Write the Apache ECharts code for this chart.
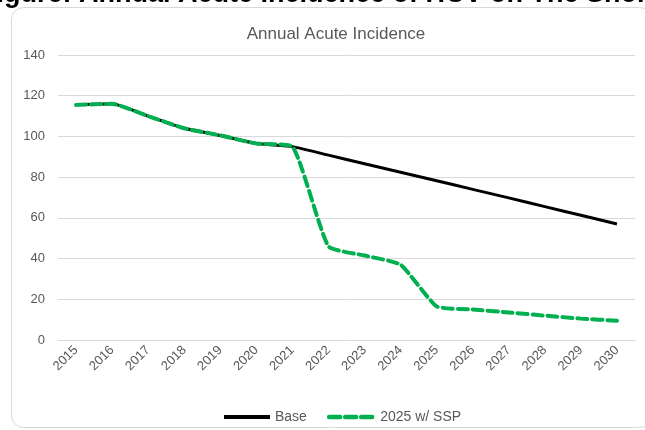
<!DOCTYPE html>
<html>
<head>
<meta charset="utf-8">
<script src="https://cdn.jsdelivr.net/npm/echarts@6/dist/echarts.min.js"></script>
<style>
  html, body { margin: 0; padding: 0; background: #fff; }
  #main { width: 645px; height: 430px; }
</style>
</head>
<body>
<div id="main"></div>
<script>
var years = ['2015', '2016', '2017', '2018', '2019', '2020', '2021', '2022',
  '2023', '2024', '2025', '2026', '2027', '2028', '2029', '2030'];
var baseValues = [115.5, 116, 110, 104, 100.5, 96.5, 95, 90.8, 86.6, 82.4, 78.2, 74, 69.8, 65.5, 61.3, 57];
var sspValues = [115.5, 116, 110, 104, 100.5, 96.5, 95, 46, 41.5, 37, 16.5, 15, 13.5, 12, 10.5, 9.5];
var yTicks = [0, 20, 40, 60, 80, 100, 120, 140];

var chartDom = document.getElementById('main');
var myChart = echarts.init(chartDom);
var option;

var grey = '#595959';
var font = 'Arial, "Liberation Sans", sans-serif';

option = {
  animation: false,
  title: {
    text: 'Annual Acute Incidence',
    left: 331,
    textAlign: 'center',
    top: 21,
    textStyle: { color: grey, fontSize: 17, fontWeight: 'normal', fontFamily: font }
  },
  graphic: [
    {
      type: 'rect',
      shape: { x: 11.5, y: 7.5, width: 640, height: 420, r: 12 },
      style: { fill: 'none', stroke: '#d9d9d9', lineWidth: 1 },
      z: -1
    },
    {
      type: 'text',
      style: {
        text: 'Figure: Annual Acute Incidence of HCV on The Shore',
        x: -20, y: 8,
        textVerticalAlign: 'bottom',
        font: 'bold 27px Arial, "Liberation Sans", sans-serif',
        fill: '#000'
      }
    }
  ],
  legend: {
    bottom: 1,
    left: 217,
    itemWidth: 46,
    itemHeight: 4,
    itemGap: 20,
    textStyle: { color: grey, fontSize: 14, fontFamily: font },
    data: [
      { name: 'Base', lineStyle: { width: 4 } },
      { name: '2025 w/ SSP', lineStyle: { width: 4.5, type: [11, 5] } }
    ]
  },
  grid: { left: 58, right: 10, top: 55, bottom: 90 },
  xAxis: {
    type: 'category',
    data: years,
    boundaryGap: true,
    axisLine: { lineStyle: { color: '#d9d9d9' } },
    axisTick: { show: false },
    axisLabel: { color: grey, fontSize: 13, fontFamily: font, rotate: 45, margin: 8, interval: 0 }
  },
  yAxis: {
    type: 'value',
    min: yTicks[0],
    max: yTicks[yTicks.length - 1],
    interval: 20,
    axisLine: { show: false },
    axisTick: { show: false },
    axisLabel: { color: grey, fontSize: 13, fontFamily: font, margin: 13 },
    splitLine: { lineStyle: { color: '#d9d9d9', width: 1 } }
  },
  series: [
    {
      name: 'Base',
      type: 'line',
      data: baseValues,
      smooth: 0.15,
      symbol: 'none',
      color: '#000',
      lineStyle: { color: '#000', width: 3 },
      z: 2
    },
    {
      name: '2025 w/ SSP',
      type: 'line',
      data: sspValues,
      smooth: 0.15,
      symbol: 'none',
      color: '#00b050',
      lineStyle: { color: '#00b050', width: 4, type: [10, 5], cap: 'round' },
      z: 3
    }
  ]
};

option && myChart.setOption(option);
</script>
</body>
</html>
